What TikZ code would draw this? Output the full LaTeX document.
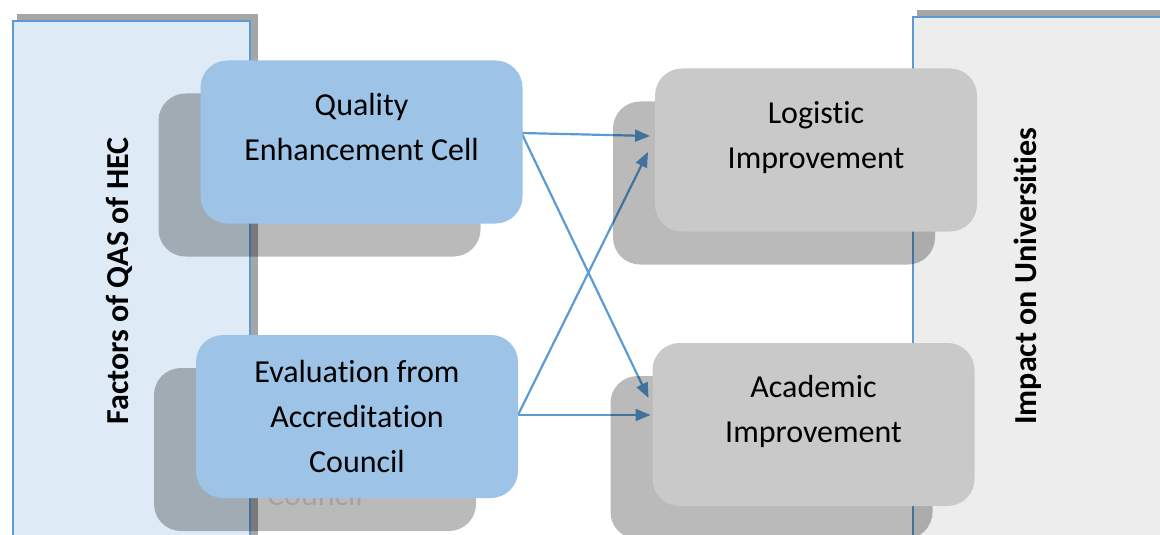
\documentclass[tikz,border=0pt]{standalone}
\usepackage{fontspec}
\setmainfont{Carlito}[Ligatures=NoCommon]
\usetikzlibrary{arrows.meta}

\definecolor{panelblue}{HTML}{DEEBF7}
\definecolor{panelgray}{HTML}{EDEDED}
\definecolor{lineblue}{HTML}{5B9BD5}
\definecolor{boxblue}{HTML}{9DC3E6}
\definecolor{boxgray}{HTML}{C9C9C9}
\definecolor{panelshadow}{HTML}{A6A6A6}

\pgfdeclarelayer{back}
\pgfdeclarelayer{links}
\pgfdeclarelayer{shade}
\pgfsetlayers{back,links,shade,main}

\begin{document}
\begin{tikzpicture}[x=1pt, y=-1pt,
  box/.style={rounded corners=27pt, minimum width=322pt, minimum height=163pt,
    inner sep=0pt, outer sep=0pt, align=center, font=\fontsize{32}{45}\selectfont},
  twoline/.style={text depth=31pt},
  boxshade/.style={box, fill=black, fill opacity=0.27, text opacity=0.12},
  link/.style={draw=lineblue, line width=2.2pt, -{Triangle[length=15pt,width=12pt]}},
  sidelabel/.style={rotate=90, font=\fontsize{32}{40}\selectfont\bfseries}]
\useasboundingbox (0,0) rectangle (1160,535);

% side panels
\begin{pgfonlayer}{back}
\fill[panelshadow] (17,14) rectangle (258,545);
\draw[lineblue, line width=2pt, fill=panelblue] (13,21) rectangle (250,545);
\fill[panelshadow] (917,10) rectangle (1175,545);
\draw[lineblue, line width=2pt, fill=panelgray] (913,17) rectangle (1175,545);
\end{pgfonlayer}

% side labels
\node[sidelabel] (factors) at (119,281) {Factors of QAS of HEC};
\node[sidelabel] (impact) at (1028,276) {Impact on Universities};

% boxes
\node[box, fill=boxblue, twoline] (qec) at (361.5,142) {Quality\\Enhancement Cell};
\node[box, fill=boxblue] (eac) at (357,416.5) {Evaluation from\\Accreditation\\Council};
\node[box, fill=boxgray, twoline] (logi) at (816,150) {Logistic\\Improvement};
\node[box, fill=boxgray, twoline] (acad) at (813.5,424.5) {Academic\\Improvement};

% shadows behind the boxes (only the last line of eac peeks out)
\begin{pgfonlayer}{shade}
\node[boxshade] (qecshade) at ([shift={(-42,33)}]qec.center) {};
\node[boxshade] (eacshade) at ([shift={(-42,33)}]eac.center) {\phantom{Evaluation from}\\\phantom{Accreditation}\\Council};
\node[boxshade] (logishade) at ([shift={(-42,33)}]logi.center) {};
\node[boxshade] (acadshade) at ([shift={(-42,33)}]acad.center) {};
\end{pgfonlayer}

% links
\begin{pgfonlayer}{links}
\draw[link] ([shift={(-1,-9)}]qec.east) -- ([shift={(-5,-14)}]logi.west);
\draw[link] ([shift={(-1,-9)}]qec.east) -- ([shift={(-4,-26.5)}]acad.west);
\draw[link] ([shift={(0,-1.5)}]eac.east) -- ([shift={(-7,2)}]logi.west);
\draw[link] ([shift={(0,-1.5)}]eac.east) -- ([shift={(-2,-9.5)}]acad.west);
\end{pgfonlayer}
\end{tikzpicture}
\end{document}
